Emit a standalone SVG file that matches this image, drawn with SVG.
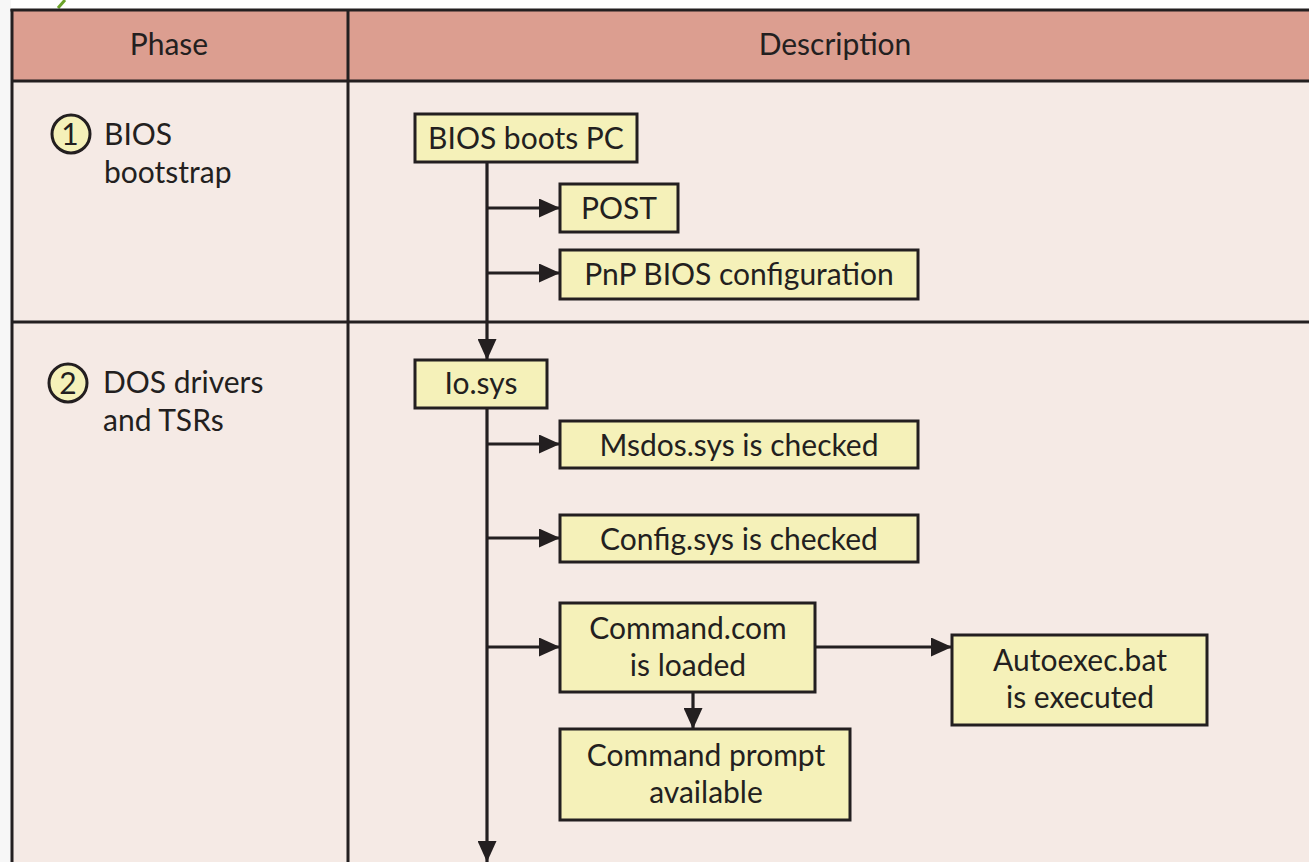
<svg xmlns="http://www.w3.org/2000/svg" width="1309" height="862" viewBox="0 0 1309 862">
<defs>
<style>
.t{font-family:Lato,"Open Sans","Liberation Sans",sans-serif;font-size:30px;fill:#231f20;}
.c{text-anchor:middle;}
.box{fill:#f5f1b9;stroke:#231f20;stroke-width:3;}
.grid{stroke:#231f20;stroke-width:3;fill:none;}
.conn{stroke:#231f20;stroke-width:3.2;fill:none;}
</style>
<marker id="ah" markerUnits="userSpaceOnUse" markerWidth="21" markerHeight="19" refX="21" refY="9.5" orient="auto">
<path d="M0,0 L21,9.5 L0,19 Z" fill="#231f20"/>
</marker>
</defs>
<rect x="0" y="0" width="1309" height="862" fill="#ffffff"/>
<rect x="0" y="0" width="11" height="862" fill="#f7f7f7"/>
<line x1="58" y1="8" x2="65" y2="0" stroke="#6aa22a" stroke-width="3"/>
<g id="table">
<rect x="12" y="10" width="1300" height="71" fill="#dc9e90"/>
<rect x="12" y="81" width="1300" height="790" fill="#f5eae5"/>
<line class="grid" x1="10.5" y1="10" x2="1309" y2="10"/>
<line class="grid" x1="12" y1="9" x2="12" y2="862"/>
<line class="grid" x1="12" y1="81" x2="1309" y2="81"/>
<line class="grid" x1="348" y1="10" x2="348" y2="862"/>
<line class="grid" x1="12" y1="322" x2="1309" y2="322"/>
<text class="t c" x="169" y="55">Phase</text>
<text class="t c" x="835" y="55">Description</text>
</g>
<g id="phase1">
<circle cx="71" cy="134" r="19" fill="#f5f1b9" stroke="#231f20" stroke-width="3"/>
<text class="t c" x="70" y="145">1</text>
<text class="t" x="104" y="145">BIOS</text>
<text class="t" x="104" y="183">bootstrap</text>
</g>
<g id="phase2">
<circle cx="68" cy="383" r="19" fill="#f5f1b9" stroke="#231f20" stroke-width="3"/>
<text class="t c" x="68" y="394">2</text>
<text class="t" x="103" y="393">DOS drivers</text>
<text class="t" x="103" y="431">and TSRs</text>
</g>
<g id="connectors">
<line class="conn" x1="487" y1="162" x2="487" y2="360" marker-end="url(#ah)"/>
<line class="conn" x1="487" y1="408" x2="487" y2="862" marker-end="url(#ah)"/>
<line class="conn" x1="487" y1="208" x2="560" y2="208" marker-end="url(#ah)"/>
<line class="conn" x1="487" y1="273" x2="560" y2="273" marker-end="url(#ah)"/>
<line class="conn" x1="487" y1="444" x2="560" y2="444" marker-end="url(#ah)"/>
<line class="conn" x1="487" y1="538" x2="560" y2="538" marker-end="url(#ah)"/>
<line class="conn" x1="487" y1="647" x2="560" y2="647" marker-end="url(#ah)"/>
<line class="conn" x1="815" y1="647" x2="952" y2="647" marker-end="url(#ah)"/>
<line class="conn" x1="693" y1="692" x2="693" y2="729" marker-end="url(#ah)"/>
</g>
<g id="n-bios">
<rect class="box" x="415" y="114" width="222" height="48"/>
<text class="t c" x="526" y="149">BIOS boots PC</text>
</g>
<g id="n-post">
<rect class="box" x="560" y="184" width="118" height="48"/>
<text class="t c" x="619" y="219">POST</text>
</g>
<g id="n-pnp">
<rect class="box" x="560" y="250" width="358" height="49"/>
<text class="t c" x="739" y="285">PnP BIOS configuration</text>
</g>
<g id="n-io">
<rect class="box" x="415" y="360" width="132" height="48"/>
<text class="t c" x="481" y="394">Io.sys</text>
</g>
<g id="n-msdos">
<rect class="box" x="560" y="421" width="358" height="47"/>
<text class="t c" x="739" y="456">Msdos.sys is checked</text>
</g>
<g id="n-config">
<rect class="box" x="560" y="515" width="358" height="47"/>
<text class="t c" x="739" y="550">Config.sys is checked</text>
</g>
<g id="n-command">
<rect class="box" x="560" y="603" width="255" height="89"/>
<text class="t c" x="688" y="639">Command.com</text>
<text class="t c" x="688" y="676">is loaded</text>
</g>
<g id="n-autoexec">
<rect class="box" x="952" y="635" width="255" height="90"/>
<text class="t c" x="1080" y="671">Autoexec.bat</text>
<text class="t c" x="1080" y="708">is executed</text>
</g>
<g id="n-prompt">
<rect class="box" x="560" y="729" width="290" height="91"/>
<text class="t c" x="706" y="766">Command prompt</text>
<text class="t c" x="706" y="803">available</text>
</g>
</svg>
